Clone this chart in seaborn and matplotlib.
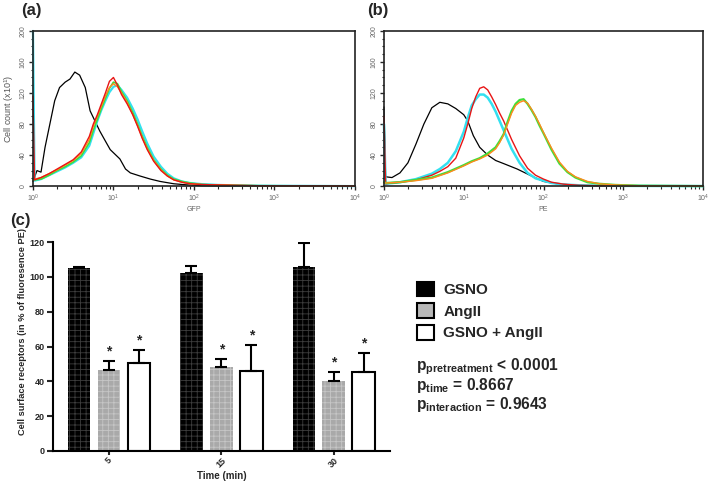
import numpy as np
import pandas as pd
import seaborn as sns
import matplotlib.pyplot as plt
from matplotlib.patches import Patch
from matplotlib.ticker import MultipleLocator, LogLocator

# ---- panel (a): GFP histograms (x in log10 units, y = cell count) ----
a_black_pos = [0.0, 0.05, 0.1, 0.15, 0.21, 0.27, 0.33, 0.4, 0.46, 0.52, 0.58, 0.65, 0.71,
               0.77, 0.83, 0.9, 0.96, 1.02, 1.08, 1.15, 1.21, 1.33, 1.46, 1.58, 1.75, 1.92,
               2.1, 2.5, 4.0]
a_black = [6, 20, 18, 50, 80, 110, 127, 134, 138, 147, 143, 127, 97, 84, 71, 58, 47, 41, 35,
           22, 17, 13, 9, 6, 3, 1.5, 0.5, 0, 0]

a_pos = [0.0, 0.02, 0.1, 0.2, 0.3, 0.4, 0.5, 0.6, 0.7, 0.75, 0.8, 0.85, 0.9, 0.95, 1.0, 1.05,
         1.1, 1.17, 1.24, 1.3, 1.36, 1.42, 1.5, 1.59, 1.67, 1.75, 1.85, 1.95, 2.1, 2.3, 2.5,
         2.8, 4.0]
a_cyan = [200, 7, 9, 14, 19, 24, 30, 37, 52, 68, 84, 98, 110, 121, 128, 130, 124, 114, 100, 86,
          70, 55, 38, 25, 16, 10, 6, 4, 2.5, 1.5, 1, 0.5, 0]
a_green = [8, 8, 9, 14, 20, 25, 31, 39, 56, 72, 86, 100, 113, 126, 134, 132, 122, 110, 95, 80,
           64, 50, 34, 22, 14, 9, 6, 4, 2, 1.5, 1, 0.5, 0]
a_orange = [9, 9, 11, 16, 21, 27, 33, 42, 60, 77, 90, 103, 116, 127, 132, 128, 120, 108, 92,
            78, 62, 48, 33, 21, 13, 8, 5, 3, 2, 1.5, 1, 0.5, 0]
a_red = [116, 8, 11, 16, 22, 28, 34, 44, 64, 80, 92, 106, 120, 135, 140, 130, 118, 106, 92, 77,
         61, 47, 32, 20, 13, 8, 5, 3, 2, 1.5, 1, 0.5, 0]

# ---- panel (b): PE histograms ----
b_black_pos = [0.0, 0.02, 0.1, 0.2, 0.3, 0.4, 0.5, 0.6, 0.7, 0.8, 0.9, 1.0, 1.05, 1.12, 1.2,
               1.3, 1.4, 1.5, 1.67, 1.83, 2.0, 2.17, 2.4, 2.7, 4.0]
b_black = [102, 12, 11, 17, 30, 54, 80, 101, 108, 106, 100, 92, 84, 65, 50, 40, 33, 29, 22, 14,
           6, 3, 1, 0, 0]

b_pos1 = [0.0, 0.02, 0.2, 0.4, 0.6, 0.7, 0.8, 0.9, 1.0, 1.05, 1.1, 1.15, 1.2, 1.25, 1.3, 1.35,
          1.4, 1.45, 1.5, 1.55, 1.6, 1.7, 1.8, 1.9, 2.0, 2.1, 2.25, 2.45, 2.7, 3.0, 4.0]
b_cyan = [80, 3, 5, 9, 16, 22, 30, 45, 70, 88, 104, 112, 118, 118, 114, 106, 96, 84, 72, 60, 48,
          30, 17, 10, 7, 4, 2, 1, 0.5, 0.3, 0]
b_red = [90, 3, 5, 8, 14, 19, 25, 36, 62, 80, 100, 115, 126, 128, 124, 115, 105, 94, 84, 72, 60,
         39, 23, 14, 9, 5, 2.5, 1, 0.5, 0.3, 0]

b_pos2 = [0.0, 0.02, 0.2, 0.4, 0.6, 0.8, 1.0, 1.1, 1.2, 1.3, 1.4, 1.45, 1.5, 1.55, 1.6, 1.65,
          1.7, 1.75, 1.8, 1.85, 1.9, 1.95, 2.0, 2.1, 2.2, 2.3, 2.4, 2.55, 2.7, 2.9, 3.2, 4.0]
b_green = [5, 4, 5, 8, 11, 18, 27, 32, 36, 42, 50, 58, 67, 83, 97, 106, 111, 112, 106, 98, 89,
           78, 68, 47, 29, 18, 11, 5, 3, 1.5, 0.5, 0]
b_orange = [4, 4, 5, 7, 10, 17, 26, 31, 35, 40, 48, 56, 66, 80, 94, 104, 108, 110, 107, 99, 90,
            80, 69, 49, 31, 19, 12, 6, 3, 1.5, 0.5, 0]

# ---- panel (c): receptor bars ----
times = ["5", "15", "30"]
treatments = ["GSNO", "AngII", "GSNO + AngII"]
gsno_mean = [105, 102.5, 105.5]
gsno_err = [0.8, 4, 14]
angii_mean = [46.5, 48.5, 40]
angii_err = [5.3, 4.2, 5.2]
combo_mean = [50.8, 46, 45.5]
combo_err = [7.3, 14.8, 11]
starred = [False, True, True]

sns.set_theme(style="ticks")
plt.rcParams["font.family"] = ["Liberation Sans", "DejaVu Sans"]
plt.rcParams["mathtext.fontset"] = "custom"
plt.rcParams["mathtext.rm"] = "Liberation Sans"
plt.rcParams["mathtext.bf"] = "Liberation Sans:bold"
plt.rcParams["hatch.linewidth"] = 0.6

fig = plt.figure(figsize=(7.09, 4.91), dpi=100)
ax_a = fig.add_axes([0.0465, 0.621, 0.454, 0.316])
ax_b = fig.add_axes([0.5416, 0.621, 0.450, 0.316])
ax_c = fig.add_axes([0.0748, 0.0815, 0.475, 0.4255])


def draw_hist(ax, curves, xlabel):
    for pos, vals, color, lw in curves:
        sns.lineplot(x=10 ** np.asarray(pos), y=vals, color=color, lw=lw, ax=ax,
                     estimator=None, sort=False, clip_on=False)
    ax.set_xscale("log")
    ax.set_xlim(1, 1e4)
    ax.set_ylim(0, 200)
    ax.set_yticks([0, 40, 80, 120, 160, 200])
    ax.yaxis.set_minor_locator(MultipleLocator(10))
    ax.xaxis.set_major_locator(LogLocator(base=10, numticks=10))
    ax.xaxis.set_minor_locator(LogLocator(base=10, subs=np.arange(2, 10), numticks=20))
    ax.tick_params(axis="both", which="major", labelsize=5, labelcolor="#666666",
                   length=3, width=1, direction="out", pad=1.5)
    ax.tick_params(axis="both", which="minor", length=1.8, width=0.8, direction="out")
    for lab in ax.get_yticklabels():
        lab.set_rotation(90)
        lab.set_va("center")
    for s in ax.spines.values():
        s.set_linewidth(1.2)
        s.set_color("#222222")
    ax.set_xlabel(xlabel, fontsize=5, color="#666666", labelpad=2)
    ax.set_ylabel("")


draw_hist(ax_a, [
    (a_black_pos, a_black, "black", 0.9),
    (a_pos, a_cyan, "#33e0f0", 1.6),
    (a_pos, a_green, "#3ee03a", 1.2),
    (a_pos, a_orange, "#ff8a1c", 1.0),
    (a_pos, a_red, "#e81515", 1.0),
], "GFP")
ax_a.set_ylabel("Cell count (x10$^1$)", fontsize=6.5, color="#555555", labelpad=3)

draw_hist(ax_b, [
    (b_black_pos, b_black, "black", 0.9),
    (b_pos1, b_cyan, "#33e0f0", 1.8),
    (b_pos1, b_red, "#e81515", 1.0),
    (b_pos2, b_green, "#3ee03a", 1.6),
    (b_pos2, b_orange, "#ff8a1c", 1.0),
], "PE")

# ---- bars ----
df = pd.DataFrame({
    "time": times * 3,
    "treatment": [t for t in treatments for _ in times],
    "value": gsno_mean + angii_mean + combo_mean,
})
palette = {"GSNO": "black", "AngII": "#a9a9a9", "GSNO + AngII": "white"}
sns.barplot(data=df, x="time", y="value", hue="treatment", hue_order=treatments,
            palette=palette, saturation=1, gap=0.25, errorbar=None, legend=False, ax=ax_c)

errs = [gsno_err, angii_err, combo_err]
hatch_edge = ["#3d3d3d", "#c6c6c6", None]
bar_groups = list(ax_c.containers)
for i, cont in enumerate(bar_groups):
    xs, tops = [], []
    for bar in cont:
        if hatch_edge[i] is not None:
            bar.set_hatch("+++")
            bar.set_edgecolor(hatch_edge[i])
            bar.set_linewidth(0)
        else:
            bar.set_edgecolor("black")
            bar.set_linewidth(1.5)
        xs.append(bar.get_x() + bar.get_width() / 2)
        tops.append(bar.get_height())
    ax_c.errorbar(xs, tops, yerr=[np.zeros(len(xs)), errs[i]], fmt="none", ecolor="black",
                  elinewidth=1.5, capsize=4.5, capthick=1.5, zorder=1)
    if starred[i]:
        for x, t, e in zip(xs, tops, errs[i]):
            ax_c.text(x, t + e + 1.5, "*", ha="center", va="bottom", fontsize=10,
                      fontweight="bold")

ax_c.set_ylim(0, 120)
ax_c.set_xlim(-0.5, 2.5)
ax_c.set_yticks(range(0, 121, 20))
sns.despine(ax=ax_c)
for s in ["left", "bottom"]:
    ax_c.spines[s].set_linewidth(1.5)
    ax_c.spines[s].set_color("black")
ax_c.tick_params(axis="y", length=4, width=1.5, labelsize=6.5, pad=2)
ax_c.tick_params(axis="x", length=3, width=1.5, labelsize=6.5, pad=0.5)
for lab in ax_c.get_yticklabels() + ax_c.get_xticklabels():
    lab.set_fontweight("bold")
for lab in ax_c.get_xticklabels():
    lab.set_rotation(45)
ax_c.set_xlabel("Time (min)", fontsize=7, fontweight="bold", labelpad=1)
ax_c.set_ylabel("Cell surface receptors (in % of fluoresence PE)", fontsize=6.7,
                fontweight="bold")
ax_c.yaxis.set_label_coords(-0.077, 0.57)

handles = [Patch(facecolor="black", edgecolor="black", lw=1.5),
           Patch(facecolor="#b8b8b8", edgecolor="black", lw=1.5),
           Patch(facecolor="white", edgecolor="black", lw=1.5)]
fig.legend(handles, treatments, loc="upper left", bbox_to_anchor=(406 / 709, 1 - 271 / 491),
           frameon=False, prop={"weight": "bold", "size": 11}, handlelength=1.1,
           handleheight=1.1, handletextpad=0.65, labelspacing=0.4, borderpad=0.2)

p_lines = [r"$\mathbf{p}_{\mathbf{pretreatment}}$ < 0.0001",
           r"$\mathbf{p}_{\mathbf{time}}$ = 0.8667",
           r"$\mathbf{p}_{\mathbf{interaction}}$ = 0.9643"]
for k, txt in enumerate(p_lines):
    fig.text(416 / 709, 1 - (367 + 18.5 * k) / 491, txt, fontsize=11.2, fontweight="bold",
             va="center", ha="left")

fig.text(21 / 709, 1 - 11 / 491, "(a)", fontsize=12, fontweight="bold", va="center")
fig.text(367 / 709, 1 - 11 / 491, "(b)", fontsize=12, fontweight="bold", va="center")
fig.text(10 / 709, 1 - 221 / 491, "(c)", fontsize=12, fontweight="bold", va="center")

fig.savefig("out.png", dpi=100)
